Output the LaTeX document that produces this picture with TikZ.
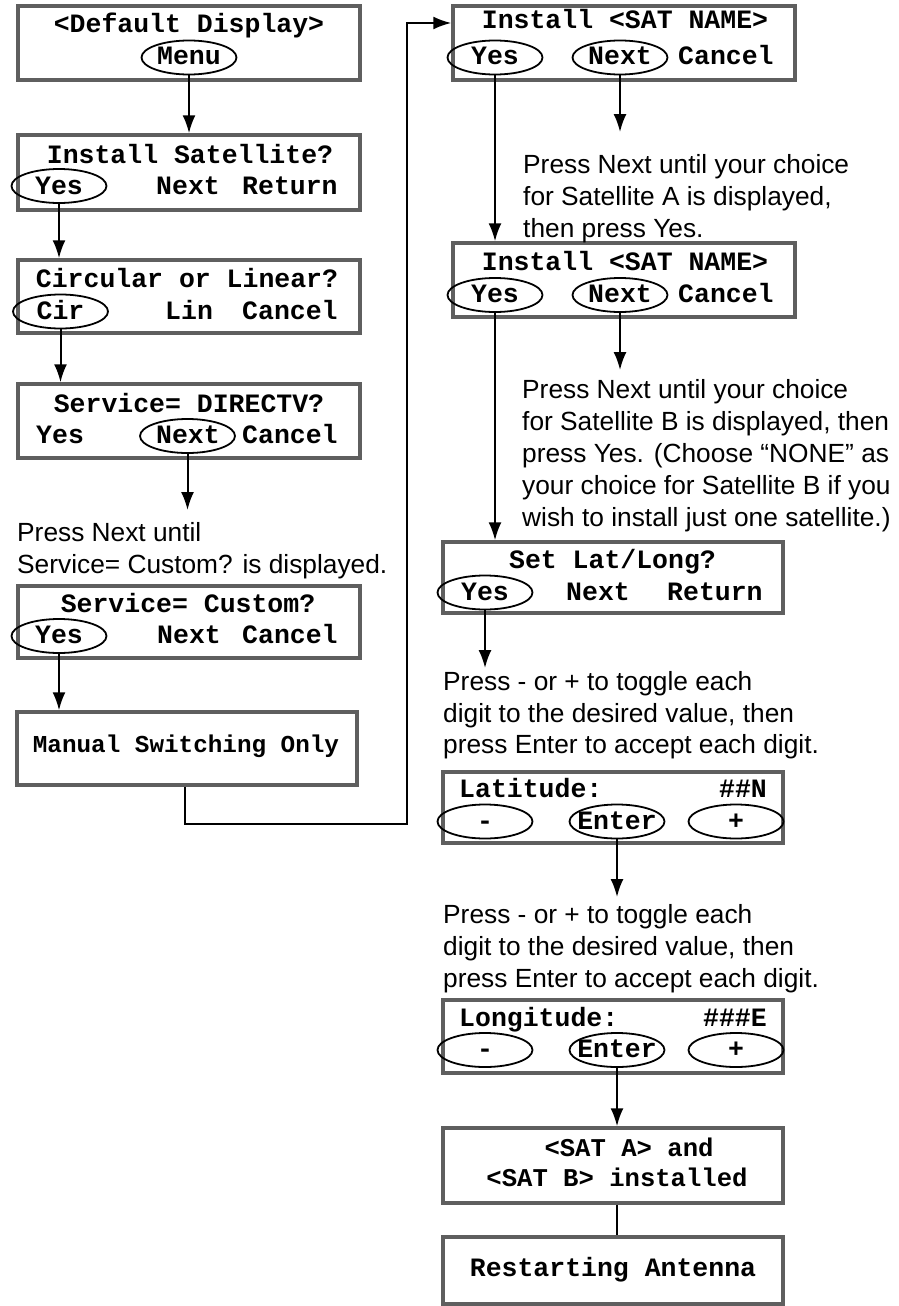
\documentclass[tikz,border=0pt]{standalone}
\usepackage{fontspec}
\setmainfont{Liberation Sans}
\newfontfamily\lcdface{Liberation Mono}
\usetikzlibrary{shapes.geometric,arrows.meta}
\definecolor{boxgray}{RGB}{95,95,95}
\newcommand\lcdfont{\lcdface\bfseries\fontsize{26.5}{32}\selectfont}
\newcommand\lcdsmall{\lcdface\bfseries\fontsize{24.3}{30}\selectfont}
\newcommand\lcdmid{\lcdface\bfseries\fontsize{25.6}{30}\selectfont}
\newcommand\notefont{\fontsize{26.3}{32}\selectfont}
\tikzset{
  box/.style={draw=boxgray, line width=3.5pt, inner sep=0pt, minimum width=342pt},
  lcd/.style={font=\lcdfont, inner sep=0pt, anchor=base},
  lcdw/.style={font=\lcdfont, inner sep=0pt, anchor=base west},
  lcde/.style={font=\lcdfont, inner sep=0pt, anchor=base east},
  oval/.style={draw, ellipse, line width=1.8pt, minimum width=95pt, minimum height=34pt, inner sep=0pt},
  arr/.style={line width=2pt, -{Latex[length=18pt,width=13pt]}},
  conn/.style={line width=2pt},
  note/.style={font=\notefont, inner sep=0pt, anchor=base west}
}
\begin{document}
\begin{tikzpicture}[x=1pt,y=-1pt]
\useasboundingbox[fill=white] (0,0) rectangle (898,1306);
% ---------- boxes ----------
\node[box, minimum height=74pt] (b1) at (189,43) {};
\node[box, minimum height=75pt] (b2) at (189,172.5) {};
\node[box, minimum height=73pt] (b3) at (189,296.5) {};
\node[box, minimum height=74pt] (b4) at (189,421) {};
\node[box, minimum height=72pt] (b5) at (189,622) {};
\node[box, minimum width=340pt, minimum height=73pt] (b6) at (187,748.5) {};
\node[box, minimum height=74pt] (b7) at (624,43) {};
\node[box, minimum height=74pt] (b8) at (624,280) {};
\node[box, minimum width=340pt, minimum height=71pt] (b9) at (613,577.5) {};
\node[box, minimum width=340pt, minimum height=71pt] (b10) at (613,807.5) {};
\node[box, minimum width=340pt, minimum height=73pt] (b11) at (613,1036.5) {};
\node[box, minimum width=340pt, minimum height=75pt] (b12) at (613,1165.5) {};
\node[box, minimum width=340pt, minimum height=67pt] (b13) at (613,1270.5) {};
% ---------- ellipses ----------
\node[oval] (menu1) at (189,57.5) {};
\node[oval] (yes2) at (59,186) {};
\node[oval] (cir3) at (60.5,311.5) {};
\node[oval] (next4) at (187.5,436) {};
\node[oval] (yes5) at (59,636) {};
\node[oval] (yes7) at (495,57.5) {};
\node[oval] (next7) at (620,57.5) {};
\node[oval] (yes8) at (495,295) {};
\node[oval] (next8) at (620,295) {};
\node[oval] (yes9) at (485,592.5) {};
\node[oval] (minus10) at (485,821.5) {};
\node[oval] (enter10) at (617,821.5) {};
\node[oval] (plus10) at (736,821.5) {};
\node[oval] (minus11) at (485,1050) {};
\node[oval] (enter11) at (617,1050) {};
\node[oval] (plus11) at (736,1050) {};
% ---------- LCD texts ----------
\node[lcd] (t1a) at (189,33) {<Default Display>};
\node[lcd] (t1b) at (189,65) {Menu};
\node[lcd] (t2a) at (190,163) {Install Satellite?};
\node[lcd] (t2b) at (59,194) {Yes};
\node[lcdw] (t2c) at (156,194) {Next};
\node[lcdw] (t2d) at (242,194) {Return};
\node[lcd] (t3a) at (187,287) {Circular or Linear?};
\node[lcd] (t3b) at (60.5,319) {Cir};
\node[lcdw] (t3c) at (165,319) {Lin};
\node[lcdw] (t3d) at (242,319) {Cancel};
\node[lcd] (t4a) at (189,412) {Service= DIRECTV?};
\node[lcdw] (t4b) at (36,443) {Yes};
\node[lcd] (t4c) at (188,443) {Next};
\node[lcdw] (t4d) at (242,443) {Cancel};
\node[lcd] (t5a) at (188,612) {Service= Custom?};
\node[lcd] (t5b) at (59,643) {Yes};
\node[lcdw] (t5c) at (157,643) {Next};
\node[lcdw] (t5d) at (242,643) {Cancel};
\node[lcd, font=\lcdsmall] (t6a) at (186,752) {Manual Switching Only};
\node[lcd] (t7a) at (625,29) {Install <SAT NAME>};
\node[lcd] (t7b) at (495,65) {Yes};
\node[lcd] (t7c) at (620,65) {Next};
\node[lcdw] (t7d) at (678,65) {Cancel};
\node[lcd] (t8a) at (625,270) {Install <SAT NAME>};
\node[lcd] (t8b) at (495,302) {Yes};
\node[lcd] (t8c) at (620,302) {Next};
\node[lcdw] (t8d) at (678,302) {Cancel};
\node[lcd] (t9a) at (612.5,568) {Set Lat/Long?};
\node[lcd] (t9b) at (485,600) {Yes};
\node[lcdw] (t9c) at (566,600) {Next};
\node[lcdw] (t9d) at (667,600) {Return};
\node[lcdw] (t10a) at (459,797) {Latitude:};
\node[lcde] (t10b) at (767,797) {\#\#N};
\node[lcd] (t10c) at (485,829) {-};
\node[lcd] (t10d) at (617,829) {Enter};
\node[lcd] (t10e) at (736,829) {+};
\node[lcdw] (t11a) at (459,1026) {Longitude:};
\node[lcde] (t11b) at (767,1026) {\#\#\#E};
\node[lcd] (t11c) at (485,1057) {-};
\node[lcd] (t11d) at (617,1057) {Enter};
\node[lcd] (t11e) at (736,1057) {+};
\node[lcd, font=\lcdmid] (t12a) at (629,1156) {<SAT A> and};
\node[lcd, font=\lcdmid] (t12b) at (617,1186) {<SAT B> installed};
\node[lcd] (t13a) at (613,1276) {Restarting Antenna};
% ---------- notes ----------
\node[note] (n4a) at (17,541) {Press Next until};
\node[note] (n4b) at (17,573) {Service= Custom? is displayed.};
\node[note] (n7a) at (523,173) {Press Next until your choice};
\node[note] (n7b) at (523,205) {for Satellite A is displayed,};
\node[note] (n7c) at (523,237) {then press Yes.};
\node[note] (n8a) at (522,398) {Press Next until your choice};
\node[note] (n8b) at (522,430) {for Satellite B is displayed, then};
\node[note] (n8c) at (522,462) {press Yes. (Choose “NONE” as};
\node[note] (n8d) at (522,494) {your choice for Satellite B if you};
\node[note] (n8e) at (522,526) {wish to install just one satellite.)};
\node[note] (n9a) at (443,690) {Press - or + to toggle each};
\node[note] (n9b) at (443,722) {digit to the desired value, then};
\node[note] (n9c) at (443,753) {press Enter to accept each digit.};
\node[note] (n10a) at (443,923) {Press - or + to toggle each};
\node[note] (n10b) at (443,955) {digit to the desired value, then};
\node[note] (n10c) at (443,987) {press Enter to accept each digit.};
% ---------- free ends ----------
\coordinate (e4) at (187.5,510);
\coordinate (e7) at (620,132);
\coordinate (e8) at (620,370);
\coordinate (e9) at (485,668);
\coordinate (e10) at (617,897);
\coordinate (loopA) at (185,824);
\coordinate (loopB) at (407,824);
\coordinate (loopC) at (407,23);
% ---------- connectors ----------
\draw[arr] (menu1.south) -- (b2.north);
\draw[arr] (yes2.south) -- (yes2.south |- b3.north);
\draw[arr] (cir3.south) -- (cir3.south |- b4.north);
\draw[arr] (next4.south) -- (e4);
\draw[arr] (yes5.south) -- (yes5.south |- b6.north);
\draw[arr] (b6.south -| loopA) -- (loopA) -- (loopB) -- (loopC) -- (loopC -| b7.west);
\draw[arr] (next7.south) -- (e7);
\draw[arr] (yes7.south) -- (yes7.south |- b8.north);
\draw[arr] (next8.south) -- (e8);
\draw[arr] (yes8.south) -- (yes8.south |- b9.north);
\draw[arr] (yes9.south) -- (e9);
\draw[arr] (enter10.south) -- (e10);
\draw[arr] (enter11.south) -- (enter11.south |- b12.north);
\draw[conn] (b12.south -| enter11.south) -- (enter11.south |- b13.north);
\end{tikzpicture}
\end{document}
